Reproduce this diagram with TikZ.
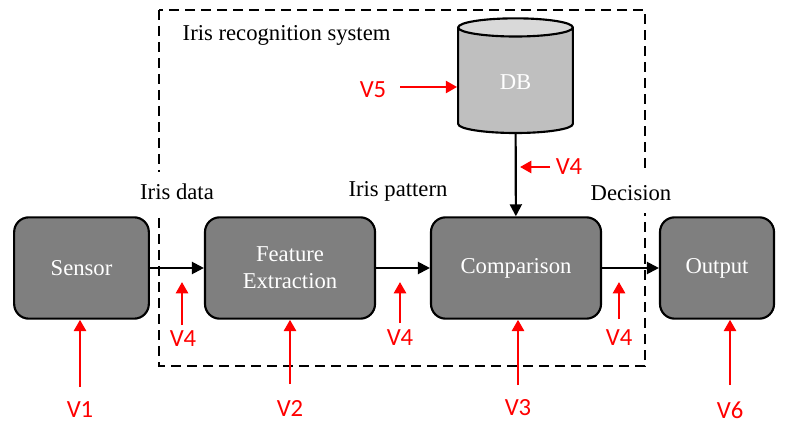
\documentclass[tikz,border=0pt]{standalone}
\usepackage{fontspec}
\setmainfont{Liberation Serif}
\newfontfamily\calibri{Carlito}
\usetikzlibrary{shapes.geometric, arrows.meta}

\definecolor{boxgray}{HTML}{7F7F7F}
\definecolor{dbbody}{HTML}{BFBFBF}
\definecolor{dbtop}{HTML}{D9D9D9}

\begin{document}
\begin{tikzpicture}[x=0.75pt, y=-0.75pt]
\tikzstyle{every node}=[font=\fontsize{17pt}{20pt}\selectfont]
\tikzstyle{block}=[draw, line width=1.6pt, rounded corners=11pt, fill=boxgray,
  text=white, align=center, minimum height=76pt]
\tikzstyle{flow}=[draw, line width=1.6pt, -{Triangle[length=9pt,width=9pt]}]
\tikzstyle{attack}=[draw=red, line width=2pt, -{Triangle[length=8.5pt,width=9pt]}]
\tikzstyle{vlabel}=[text=red, font=\calibri\fontsize{18.5pt}{20pt}\selectfont]
\tikzstyle{cut}=[fill=white, inner ysep=9pt]

\useasboundingbox (0,0) rectangle (787,423);

% iris recognition system boundary
\draw[line width=1.6pt, dash pattern=on 7.5pt off 4.5pt] (159,10) rectangle (645,366);
\node[anchor=west] (title) at (178,35) {Iris recognition system};

% blocks
\node[block, minimum width=101pt] (sensor) at (81.5,268) {Sensor};
\node[block, minimum width=127.5pt] (feature) at (290,268) {Feature\\Extraction};
\node[block, minimum width=127.5pt] (comparison) at (516,268) {Comparison};
\node[block, minimum width=85.5pt] (output) at (717,268) {Output};
\node[cylinder, shape border rotate=90, aspect=0.45, draw, line width=1.6pt,
  minimum width=86pt, minimum height=86pt, cylinder uses custom fill,
  cylinder body fill=dbbody, cylinder end fill=dbtop, text=white] (db) at (515.5,82.5) {DB};

% data labels
\node[cut] (irisdata) at (177,192) {Iris data};
\node (irispattern) at (398,191) {Iris pattern};
\node[cut] (decision) at (631,193) {Decision};

% data flow
\draw[flow] (sensor) -- (feature);
\draw[flow] (feature) -- (comparison);
\draw[flow] (comparison) -- (output);
\draw[flow] (db) -- (comparison);

% attack points
\coordinate (t1) at (80,387);
\coordinate (t2) at (290,384);
\coordinate (t3) at (518,385);
\coordinate (t6) at (730,385);
\coordinate (t4a) at (182,325);
\coordinate (t4b) at (400,323);
\coordinate (t4c) at (619,319);
\coordinate (t4d) at (550,167);
\coordinate (t5) at (400,87);

\node[vlabel] (v1) at (80,410) {V1};
\node[vlabel] (v2) at (290,408) {V2};
\node[vlabel] (v3) at (518,408) {V3};
\node[vlabel] (v6) at (730,410) {V6};
\node[vlabel] (v4a) at (183,339) {V4};
\node[vlabel] (v4b) at (400,338) {V4};
\node[vlabel] (v4c) at (619,338) {V4};
\node[vlabel] (v4d) at (569,167) {V4};
\node[vlabel] (v5) at (373,90) {V5};

\draw[attack] (t1) -- (t1 |- sensor.south);
\draw[attack] (t2) -- (t2 |- feature.south);
\draw[attack] (t3) -- (t3 |- comparison.south);
\draw[attack] (t6) -- (t6 |- output.south);
\draw[attack] (t4a) -- ++(0,-43);
\draw[attack] (t4b) -- ++(0,-41);
\draw[attack] (t4c) -- ++(0,-37);
\draw[attack] (t4d) -- ++(-30,0);
\draw[attack] (t5) -- (t5 -| db.west);
\end{tikzpicture}
\end{document}
